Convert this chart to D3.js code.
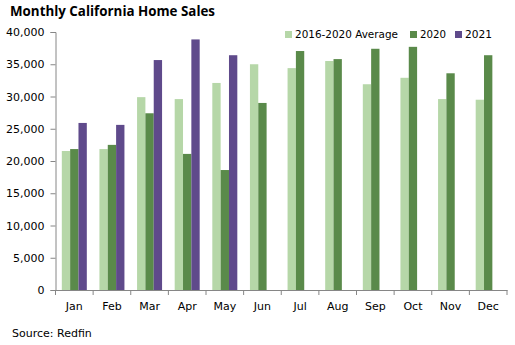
<!DOCTYPE html>
<html><head><meta charset="utf-8">
<script src="https://cdn.jsdelivr.net/npm/d3@7"></script>
<style>body{margin:0;background:#fff}svg{display:block}</style>
</head><body>
<svg id="c" width="515" height="345"></svg>
<script>
const months = ["Jan","Feb","Mar","Apr","May","Jun","Jul","Aug","Sep","Oct","Nov","Dec"];
const seriesNames = ["2016-2020 Average","2020","2021"];
const avg = [21550,21850,29900,29600,32100,35000,34400,35500,31900,32900,29600,29500];
const y2020 = [21850,22500,27400,21100,18600,29000,37050,35800,37400,37700,33600,36400];
const y2021 = [25900,25600,35650,38850,36400,null,null,null,null,null,null,null];
const yTicks = [0,5000,10000,15000,20000,25000,30000,35000,40000];
const colors = ["#b6d7a8","#5a8a4a","#5f4a8b"];

(function(){
const svg = d3.select("#c");
const font = "'DejaVu Sans', Verdana, sans-serif";
const pLeft = 55.5, pRight = 507, pTop = 32, pBottom = 290;
const x = d3.scaleBand().domain(months).range([pLeft, pRight]).paddingInner(0).paddingOuter(0);
const y = d3.scaleLinear().domain([0,40000]).range([pBottom, pTop]);
const groupW = 25;
const x1 = d3.scaleBand().domain([0,1,2]).range([0, groupW]);
const data = [avg, y2020, y2021];

// bars
data.forEach((arr, si) => {
  svg.append("g").selectAll("rect")
    .data(months.map((m,i)=>({m, v: arr[i]})).filter(d=>d.v!=null))
    .join("rect")
    .attr("x", d => x(d.m) + (x.bandwidth()-groupW)/2 + x1(si))
    .attr("y", d => y(d.v))
    .attr("width", x1.bandwidth())
    .attr("height", d => pBottom - y(d.v))
    .attr("fill", colors[si]);
});

// y axis
const yAxis = svg.append("g").attr("transform", `translate(${pLeft},0)`)
  .call(d3.axisLeft(y).tickValues(yTicks).tickSize(5).tickPadding(6).tickFormat(d3.format(",")));
yAxis.select(".domain").attr("stroke","#868686");
yAxis.selectAll(".tick line").attr("stroke","#868686");
yAxis.selectAll("text").attr("font-family", font).attr("font-size", 11).attr("fill","#000");

// x axis
const xAxis = svg.append("g").attr("transform", `translate(0,${pBottom})`)
  .call(d3.axisBottom(x).tickSize(0).tickPadding(12));
xAxis.select(".domain").attr("stroke","#868686");
xAxis.selectAll("text").attr("font-family", font).attr("font-size", 11).attr("fill","#000");
// tick marks at band boundaries
svg.append("g").selectAll("line")
  .data(months.map((m,i)=>i).concat([months.length]))
  .join("line")
  .attr("x1", i => i < months.length ? x(months[i]) : pRight)
  .attr("x2", i => i < months.length ? x(months[i]) : pRight)
  .attr("y1", pBottom).attr("y2", pBottom+5)
  .attr("stroke","#868686");

// title
svg.append("text").attr("x", 10).attr("y", 16)
  .attr("font-family", "'Open Sans', 'DejaVu Sans', sans-serif").attr("font-weight", "bold")
  .attr("font-size", 14).attr("textLength", 205).attr("lengthAdjust","spacingAndGlyphs")
  .text("Monthly California Home Sales");

// legend
const legendX = [285, 410, 455];
const legendW = [103, 26, 27];
seriesNames.forEach((n, i) => {
  svg.append("rect").attr("x", legendX[i]).attr("y", 31).attr("width", 7).attr("height", 7).attr("fill", colors[i]);
  svg.append("text").attr("x", legendX[i] + 10).attr("y", 38)
    .attr("font-family", font).attr("font-size", 11)
    .attr("textLength", legendW[i]).attr("lengthAdjust","spacingAndGlyphs")
    .text(n);
});

// source
svg.append("text").attr("x", 12).attr("y", 337)
  .attr("font-family", font).attr("font-size", 11).text("Source: Redfin");
})();
</script>
</body></html>
